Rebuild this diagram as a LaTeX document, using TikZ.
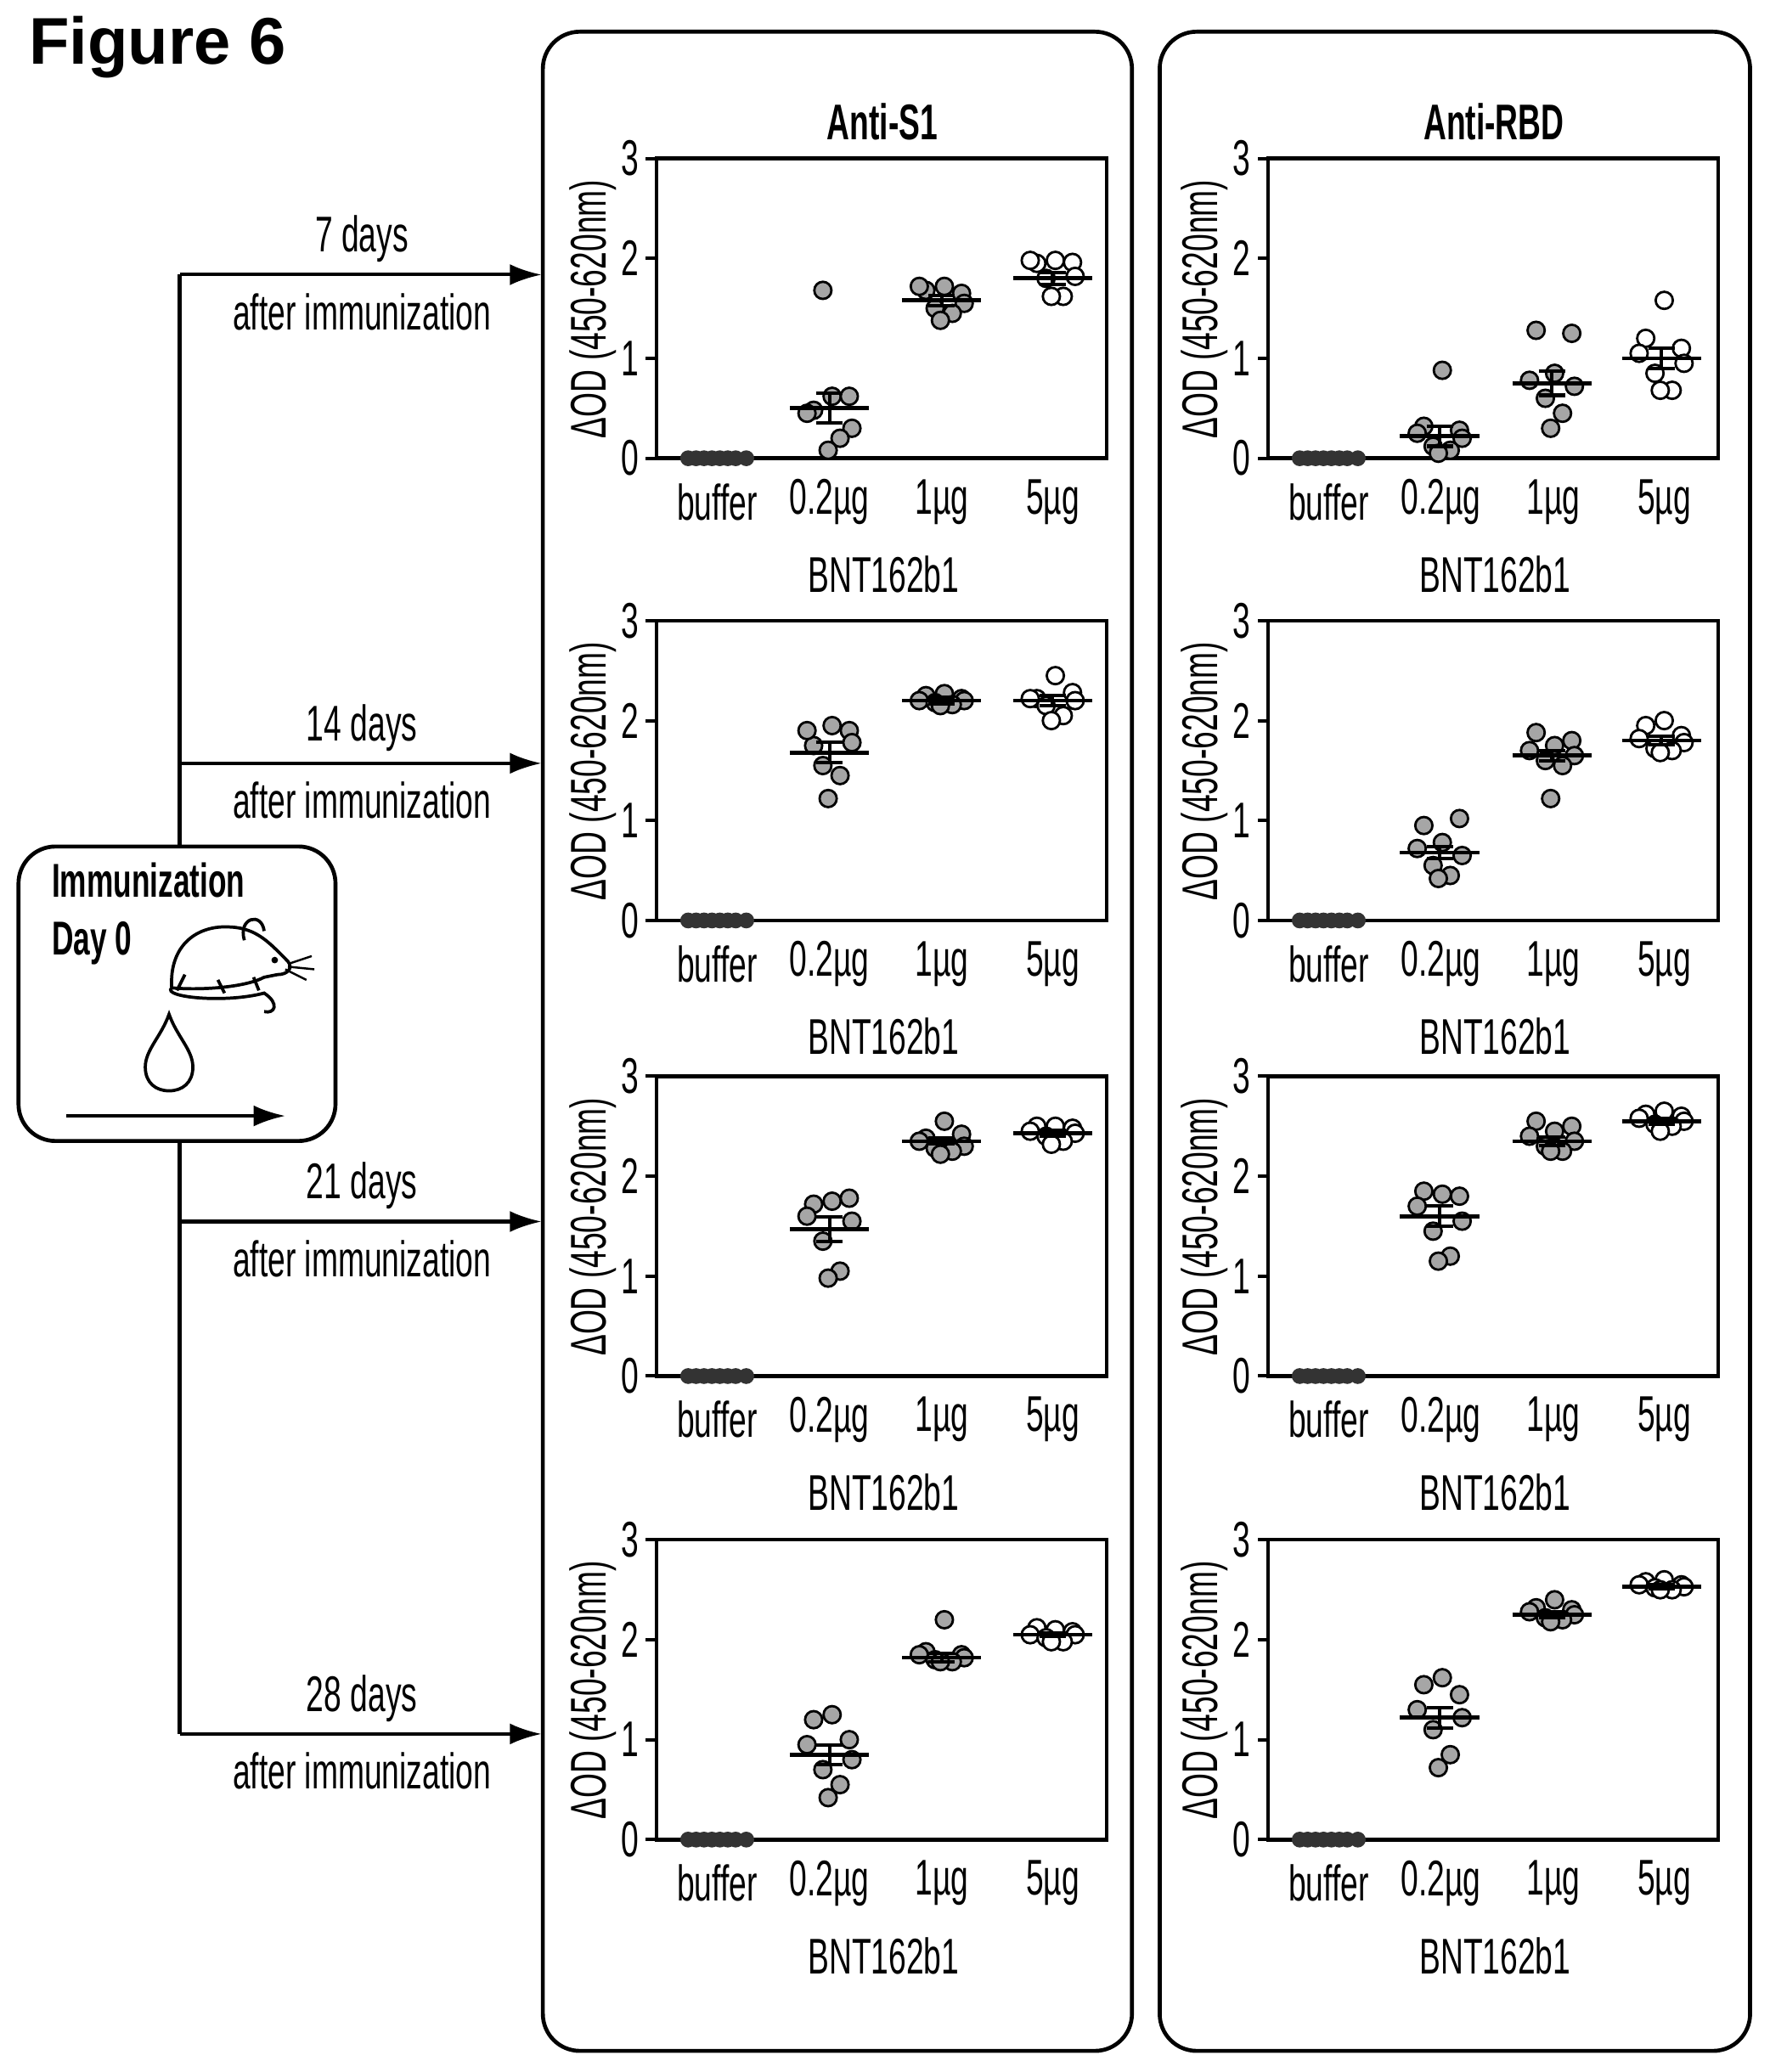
\documentclass[tikz,border=0pt]{standalone}
\usepackage{fontspec}
\usetikzlibrary{arrows.meta}
\setmainfont{Liberation Sans}[FakeStretch=0.63]
\newfontfamily\figfont{Liberation Sans}
\begin{document}
\begin{tikzpicture}[x=0.5pt,y=-0.5pt,line width=1.3pt,
  lab/.style={font=\fontsize{19}{19}\selectfont},
  dot/.style={draw=black,line width=0.9pt,fill=#1},
  pan/.style={draw,rounded corners=14pt,line width=1.5pt}]
\useasboundingbox (0,0) rectangle (1340,1569);
\node[anchor=west,font=\figfont\bfseries\fontsize{25}{25}\selectfont] (fig) at (14,36) {Figure 6};
\draw[pan] (411,24) rectangle (857,1553);
\draw[pan] (878,24) rectangle (1325,1553);
\node[font=\bfseries\fontsize{19}{19}\selectfont] (t1) at (668,92) {Anti-S1};
\node[font=\bfseries\fontsize{19}{19}\selectfont] (t2) at (1131,92) {Anti-RBD};
% timeline
\coordinate (top) at (136,208); \coordinate (bot) at (136,1313);
\draw (top) -- (bot);
\foreach \y/\d [count=\k] in {208/7,578/14,925/21,1313/28}{
  \coordinate (s\k) at (136,\y); \coordinate (e\k) at (410,\y);
  \draw[-{Latex[length=12pt,width=8pt]}] (s\k) -- (e\k);
  \node[lab] (d\k) at (274,\y-27) {\d\ days};
  \node[lab] (a\k) at (274,\y+28) {after immunization};
}
% immunization box
\draw[pan,fill=white] (14,641) rectangle (254,864);
\node[anchor=north west,align=left,font=\bfseries\fontsize{18}{22}\selectfont,inner sep=0] (immt) at (38,652) {Immunization\\Day 0};
% mouse
\draw[line width=1.2pt] (130,748) .. controls (128,715) and (150,700) .. (175,702) .. controls (195,703) and (205,715) .. (218,728) .. controls (222,733) and (218,738) .. (210,738) -- (200,740) .. controls (185,748) and (150,750) .. (130,748) -- cycle;
\draw[line width=1.2pt] (185,712) .. controls (180,695) and (198,690) .. (200,705);
\fill (208,727) circle (2.5);
\draw[line width=1.2pt] (130,748) .. controls (122,755) and (170,760) .. (200,752) .. controls (212,760) and (208,768) .. (200,766);
\draw[line width=1.2pt] (140,738) -- (134,750) (165,742) -- (170,752) (192,740) -- (196,750);
\draw[line width=0.8pt] (218,730) -- (236,724) (218,732) -- (238,734) (216,734) -- (232,742);
% drop
\draw[line width=1.2pt] (128,768) .. controls (122,785) and (110,795) .. (110,808) .. controls (110,820) and (118,826) .. (128,826) .. controls (138,826) and (146,820) .. (146,808) .. controls (146,795) and (134,785) .. (128,768) -- cycle;
\coordinate (ia) at (50,845); \coordinate (ib) at (216,845);
\draw[-{Latex[length=12pt,width=8pt]}] (ia) -- (ib);
% plot macro
\newcommand\axesplot[2]{%
  \draw[line width=1.4pt] (#1,#2-227) rectangle (#1+341,#2);
  \foreach \t in {0,1,2,3}{
    \draw (#1,#2-75.67*\t) -- (#1-8,#2-75.67*\t);
    \node[lab,anchor=east,inner sep=2pt] at (#1-8,#2-75.67*\t) {\t};}
  \node[lab,rotate=90] at (#1-48,#2-113) {ΔOD (450-620nm)};
  \node[lab] at (#1+46,#2+33) {buffer};
  \node[lab] at (#1+131,#2+33) {0.2µg};
  \node[lab] at (#1+216,#2+33) {1µg};
  \node[lab] at (#1+300,#2+33) {5µg};
  \node[lab] at (#1+172,#2+88) {BNT162b1};
  \foreach \dx in {-22,-16,-10,-4,2,8,14,22}{\fill[black!80] (#1+46+\dx,#2) circle (6);}
}
\newcommand\grp[6]{% xc, yb, mean, sem, fill, values
  \foreach \v [count=\i] in {#6}{
    \pgfmathsetmacro\dx{{-12,2,15,-17,17,-5,8,-1}[\i-1]}
    \draw[dot=#5] (#1+\dx,#2-75.67*\v) circle (6.5);}
  \draw[line width=1.5pt] (#1-30,#2-75.67*#3) -- (#1+30,#2-75.67*#3);
  \draw[line width=1.3pt] (#1,#2-75.67*#3-75.67*#4) -- (#1,#2-75.67*#3+75.67*#4)
     (#1-10,#2-75.67*#3-75.67*#4) -- (#1+10,#2-75.67*#3-75.67*#4)
     (#1-10,#2-75.67*#3+75.67*#4) -- (#1+10,#2-75.67*#3+75.67*#4);
}
\def\gA{black!35}
% S1
\axesplot{497}{347}
\grp{628}{347}{0.5}{0.15}{\gA}{0.48,0.62,0.62,0.45,0.3,1.68,0.2,0.08}
\grp{713}{347}{1.58}{0.05}{\gA}{1.68,1.72,1.65,1.72,1.55,1.5,1.45,1.38}
\grp{797}{347}{1.8}{0.06}{white}{1.95,1.98,1.96,1.98,1.82,1.8,1.62,1.62}
\axesplot{497}{697}
\grp{628}{697}{1.68}{0.1}{\gA}{1.75,1.95,1.9,1.9,1.78,1.55,1.45,1.22}
\grp{713}{697}{2.2}{0.03}{\gA}{2.25,2.27,2.22,2.2,2.2,2.18,2.16,2.15}
\grp{797}{697}{2.2}{0.05}{white}{2.22,2.45,2.28,2.22,2.2,2.15,2.05,2.0}
\axesplot{497}{1042}
\grp{628}{1042}{1.47}{0.12}{\gA}{1.72,1.75,1.78,1.6,1.55,1.35,1.05,0.98}
\grp{713}{1042}{2.35}{0.03}{\gA}{2.38,2.55,2.42,2.35,2.3,2.28,2.25,2.22}
\grp{797}{1042}{2.43}{0.03}{white}{2.5,2.5,2.48,2.45,2.43,2.4,2.35,2.32}
\axesplot{497}{1393}
\grp{628}{1393}{0.85}{0.1}{\gA}{1.2,1.25,1.0,0.95,0.8,0.7,0.55,0.42}
\grp{713}{1393}{1.82}{0.04}{\gA}{1.88,2.2,1.85,1.85,1.82,1.8,1.78,1.78}
\grp{797}{1393}{2.05}{0.02}{white}{2.12,2.1,2.08,2.05,2.05,2.02,1.98,1.98}
% RBD
\axesplot{960}{347}
\grp{1090}{347}{0.22}{0.1}{\gA}{0.32,0.88,0.28,0.25,0.2,0.12,0.08,0.05}
\grp{1175}{347}{0.75}{0.12}{\gA}{1.28,0.85,1.25,0.78,0.72,0.6,0.45,0.3}
\grp{1258}{347}{1.0}{0.1}{white}{1.2,1.58,1.1,1.05,0.95,0.85,0.68,0.68}
\axesplot{960}{697}
\grp{1090}{697}{0.68}{0.06}{\gA}{0.95,0.78,1.02,0.72,0.65,0.55,0.45,0.42}
\grp{1175}{697}{1.65}{0.05}{\gA}{1.88,1.75,1.8,1.7,1.65,1.6,1.55,1.22}
\grp{1258}{697}{1.8}{0.04}{white}{1.95,2.0,1.85,1.82,1.78,1.72,1.7,1.68}
\axesplot{960}{1042}
\grp{1090}{1042}{1.6}{0.1}{\gA}{1.85,1.82,1.8,1.7,1.55,1.45,1.2,1.15}
\grp{1175}{1042}{2.35}{0.04}{\gA}{2.55,2.45,2.5,2.4,2.35,2.3,2.25,2.25}
\grp{1258}{1042}{2.55}{0.03}{white}{2.62,2.65,2.6,2.58,2.55,2.52,2.5,2.45}
\axesplot{960}{1393}
\grp{1090}{1393}{1.22}{0.1}{\gA}{1.55,1.62,1.45,1.3,1.22,1.1,0.85,0.72}
\grp{1175}{1393}{2.25}{0.03}{\gA}{2.32,2.4,2.3,2.28,2.25,2.22,2.2,2.18}
\grp{1258}{1393}{2.53}{0.02}{white}{2.58,2.6,2.55,2.55,2.53,2.52,2.5,2.5}
\end{tikzpicture}
\end{document}
